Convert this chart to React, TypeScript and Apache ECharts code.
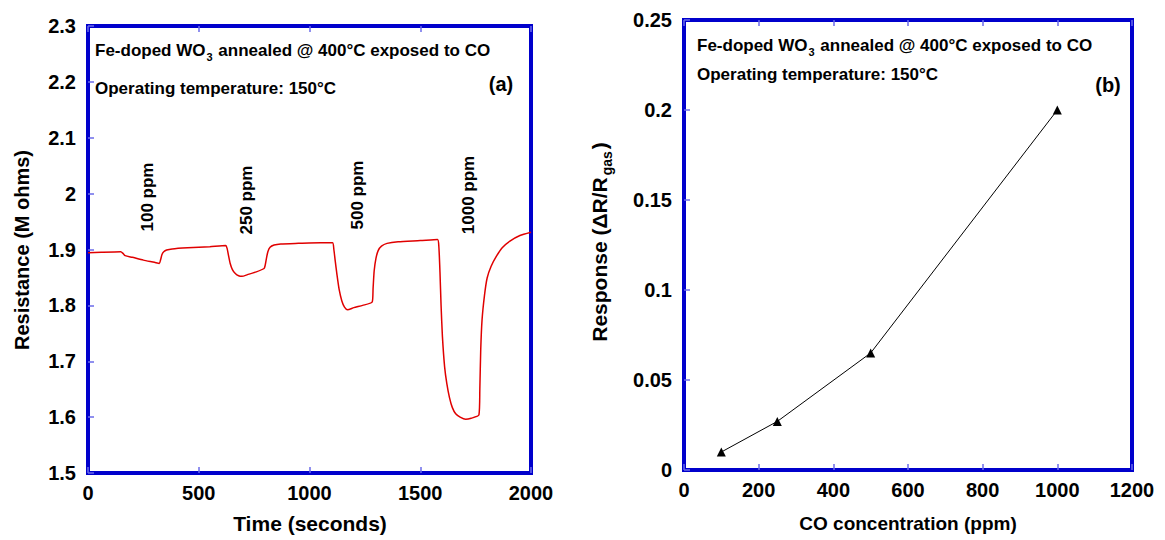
import React, { useEffect, useRef } from "react";
import * as echarts from "echarts";

// ---- Data ----
const timeResistance: [number, number][] = [
  [0, 1.894], [60, 1.895], [148, 1.896], [158, 1.893], [168, 1.889], [200, 1.886], [250, 1.881], [300, 1.877], [322, 1.875],
  [328, 1.882], [334, 1.891], [342, 1.896], [355, 1.899], [380, 1.901], [450, 1.903], [550, 1.905], [622, 1.907],
  [628, 1.902], [634, 1.89], [642, 1.875], [652, 1.864], [665, 1.857], [680, 1.853], [695, 1.852], [720, 1.855], [760, 1.86], [795, 1.866],
  [800, 1.872], [806, 1.885], [812, 1.896], [822, 1.904], [840, 1.908], [870, 1.91], [950, 1.911], [1050, 1.912], [1104, 1.912],
  [1110, 1.9], [1116, 1.88], [1124, 1.855], [1134, 1.828], [1146, 1.808], [1158, 1.797], [1172, 1.792], [1200, 1.796], [1240, 1.8], [1283, 1.806],
  [1287, 1.83], [1292, 1.862], [1300, 1.884], [1310, 1.898], [1325, 1.906], [1350, 1.911], [1400, 1.914], [1500, 1.916], [1578, 1.918],
  [1584, 1.905], [1589, 1.86], [1594, 1.8], [1600, 1.745], [1610, 1.69], [1620, 1.66], [1632, 1.635], [1645, 1.617], [1660, 1.606], [1680, 1.6], [1705, 1.596], [1730, 1.598], [1765, 1.604],
  [1769, 1.65], [1773, 1.72], [1779, 1.774], [1790, 1.818], [1802, 1.849], [1820, 1.87], [1844, 1.888], [1870, 1.903], [1905, 1.915], [1950, 1.925], [2000, 1.931],
];

const coConcentration = [100, 250, 500, 1000];
const responseValues = [0.01, 0.027, 0.065, 0.2];

const ppmLabels = ["100 ppm", "250 ppm", "500 ppm", "1000 ppm"];

const FONT = "'Liberation Sans', Arial, sans-serif";
const BLUE = "#0000cc";
const TICK = "#6b6bea";

export default function App() {
  const ref = useRef<HTMLDivElement>(null);

  useEffect(() => {
    if (!ref.current) return;
    const chart = echarts.init(ref.current, null, { renderer: "svg" });

    const labelStyle = {
      color: "#000", fontWeight: "bold" as const, fontSize: 20, fontFamily: FONT,
      formatter: (v: number) => String(v),
    };
    const tick = (show = true) => ({ show, inside: true, length: 6, lineStyle: { color: TICK, width: 1.5 } });

    const innerText = (x: number, y: number, main: boolean) => ({
      type: "text",
      x,
      y,
      z: 100,
      style: {
        text: main
          ? "{a|Fe-doped WO}{s|3}{a| annealed @ 400°C exposed to CO}"
          : "{a|Operating temperature: 150°C}",
        rich: {
          a: { fontSize: 17, fontWeight: "bold", fontFamily: FONT, fill: "#000" },
          s: { fontSize: 11, fontWeight: "bold", fontFamily: FONT, fill: "#000", padding: [13, 1, 0, 1] },
        },
        verticalAlign: "middle",
        align: "left",
      },
    });

    const ppmX = [147, 246, 357, 468];
    const ppmY = [197, 200, 195, 195];

    const option: any = {
      animation: false,
      backgroundColor: "#fff",
      grid: [
        { left: 88, top: 26, width: 443, height: 447, show: true, borderColor: BLUE, borderWidth: 4, backgroundColor: "transparent" },
        { left: 684, top: 20, width: 448, height: 450, show: true, borderColor: BLUE, borderWidth: 4, backgroundColor: "transparent" },
      ],
      xAxis: [
        {
          type: "value", gridIndex: 0, min: 0, max: 2000, interval: 500,
          axisLine: { show: false }, axisTick: tick(), splitLine: { show: false },
          axisLabel: { ...labelStyle, margin: 10 },
        },
        {
          type: "value", gridIndex: 0, position: "top", min: 0, max: 2000, interval: 500,
          axisLine: { show: false }, axisTick: tick(), splitLine: { show: false }, axisLabel: { show: false },
        },
        {
          type: "value", gridIndex: 1, min: 0, max: 1200, interval: 200,
          axisLine: { show: false }, axisTick: tick(), splitLine: { show: false },
          axisLabel: { ...labelStyle, margin: 10 },
        },
        {
          type: "value", gridIndex: 1, position: "top", min: 0, max: 1200, interval: 200,
          axisLine: { show: false }, axisTick: tick(), splitLine: { show: false }, axisLabel: { show: false },
        },
      ],
      yAxis: [
        {
          type: "value", gridIndex: 0, min: 1.5, max: 2.3, interval: 0.1,
          axisLine: { show: false }, axisTick: tick(), splitLine: { show: false },
          axisLabel: { ...labelStyle, margin: 12 },
        },
        {
          type: "value", gridIndex: 1, min: 0, max: 0.25, interval: 0.05,
          axisLine: { show: false }, axisTick: tick(), splitLine: { show: false },
          axisLabel: { ...labelStyle, margin: 12 },
        },
      ],
      series: [
        {
          type: "line", xAxisIndex: 0, yAxisIndex: 0, data: timeResistance,
          showSymbol: false, symbol: "none", smooth: 0.2,
          lineStyle: { color: "#e00000", width: 1.5 },
        },
        {
          type: "line", xAxisIndex: 2, yAxisIndex: 1,
          data: coConcentration.map((c, i) => [c, responseValues[i]]),
          symbol: "triangle", symbolSize: 9,
          itemStyle: { color: "#000" },
          lineStyle: { color: "#000", width: 1 },
        },
      ],
      graphic: [
        innerText(95, 50, true),
        innerText(95, 88, false),
        {
          type: "text", x: 501, y: 84, z: 100,
          style: { text: "(a)", fontSize: 20, fontWeight: "bold", fontFamily: FONT, fill: "#000", align: "center", verticalAlign: "middle" },
        },
        innerText(697, 45, true),
        innerText(697, 74, false),
        {
          type: "text", x: 1108, y: 85, z: 100,
          style: { text: "(b)", fontSize: 20, fontWeight: "bold", fontFamily: FONT, fill: "#000", align: "center", verticalAlign: "middle" },
        },
        ...ppmLabels.map((t, i) => ({
          type: "text", x: ppmX[i], y: ppmY[i], rotation: Math.PI / 2, z: 100,
          style: { text: t, fontSize: 17, fontWeight: "bold", fontFamily: FONT, fill: "#000", align: "center", verticalAlign: "middle" },
        })),
        {
          type: "text", x: 310, y: 523, z: 100,
          style: { text: "Time (seconds)", fontSize: 21, fontWeight: "bold", fontFamily: FONT, fill: "#000", align: "center", verticalAlign: "middle" },
        },
        {
          type: "text", x: 22, y: 250, rotation: Math.PI / 2, z: 100,
          style: { text: "Resistance (M ohms)", fontSize: 20, fontWeight: "bold", fontFamily: FONT, fill: "#000", align: "center", verticalAlign: "middle" },
        },
        {
          type: "text", x: 908, y: 523, z: 100,
          style: { text: "CO concentration (ppm)", fontSize: 19, fontWeight: "bold", fontFamily: FONT, fill: "#000", align: "center", verticalAlign: "middle" },
        },
        {
          type: "text", x: 599, y: 242, rotation: Math.PI / 2, z: 100,
          style: {
            text: "{a|Response (ΔR/R}{s|gas}{a|)}",
            rich: {
              a: { fontSize: 21, fontWeight: "bold", fontFamily: FONT, fill: "#000" },
              s: { fontSize: 14, fontWeight: "bold", fontFamily: FONT, fill: "#000", padding: [15, 2, 0, 2] },
            },
            align: "center",
            verticalAlign: "middle",
          },
        },
      ],
    };

    chart.setOption(option);
    return () => chart.dispose();
  }, []);

  return (
    <div
      ref={ref}
      style={{ position: "absolute", left: 0, top: 0, width: 1165, height: 540, background: "#fff" }}
    />
  );
}
